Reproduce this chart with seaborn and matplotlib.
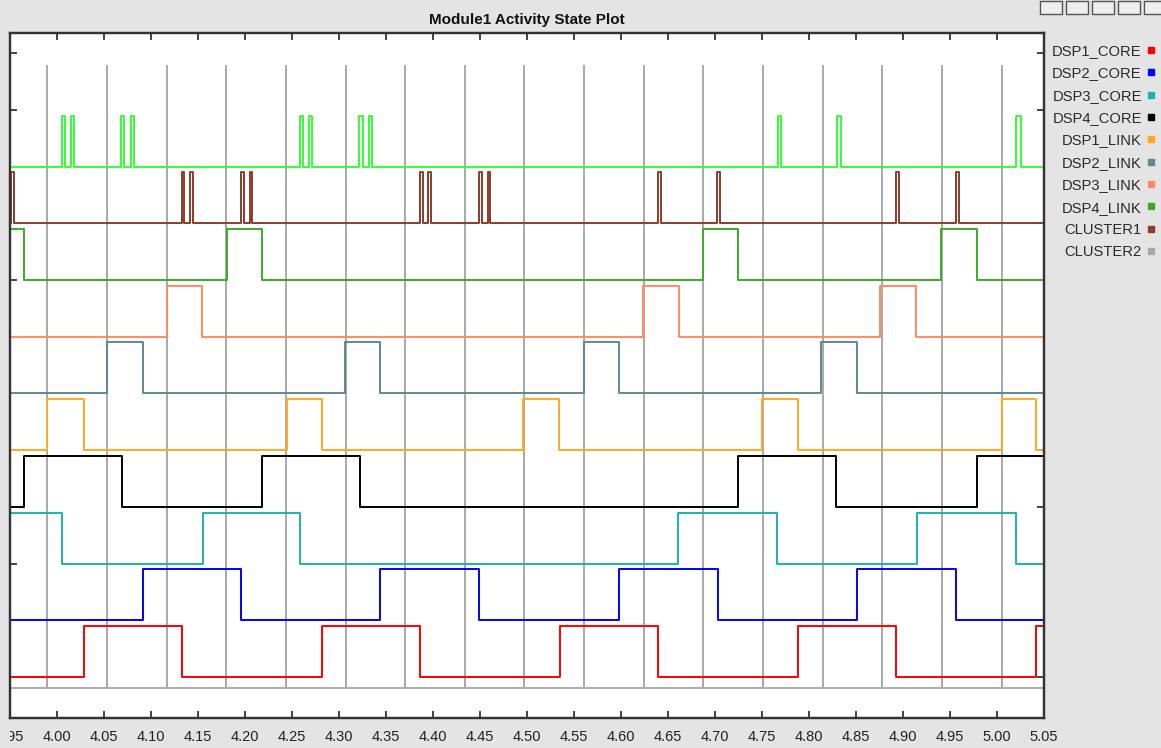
import matplotlib
matplotlib.use("Agg")
import matplotlib.pyplot as plt
import pandas as pd
import seaborn as sns
from matplotlib.lines import Line2D
from matplotlib.patches import Rectangle
from matplotlib.transforms import Bbox, TransformedBbox

# ---------------------------------------------------------------- data
T_START, T_END = 3.95, 5.05

# Track order from bottom to top; each track sits on its own integer level
signal_names = ["DSP1_CORE", "DSP2_CORE", "DSP3_CORE", "DSP4_CORE",
                "DSP1_LINK", "DSP2_LINK", "DSP3_LINK", "DSP4_LINK",
                "CLUSTER1", "BUS"]
signal_colors = ["#FF0000", "#0000FF", "#1AB2B2", "#000000",
                 "#FFAA1E", "#5B8A90", "#FF8A62", "#3CAA28",
                 "#8C3C2A", "#33FF33"]
legend_names = ["DSP1_CORE", "DSP2_CORE", "DSP3_CORE", "DSP4_CORE",
                "DSP1_LINK", "DSP2_LINK", "DSP3_LINK", "DSP4_LINK",
                "CLUSTER1", "CLUSTER2"]
legend_colors = ["#FF0000", "#0000FF", "#1AB2B2", "#000000",
                 "#FFAA1E", "#5B8A90", "#FF8A62", "#3CAA28",
                 "#8C3C2A", "#A8A8A8"]

# state at T_START (0 = idle, 1 = active) and the times where the state toggles
start_state = [0, 0, 1, 0, 0, 0, 0, 1, 0, 0]
dsp1_core_edges = [4.0285, 4.1325, 4.2819, 4.3862, 4.5353, 4.6393, 4.7884, 4.8923, 5.0418]
dsp2_core_edges = [4.0913, 4.1960, 4.3436, 4.4494, 4.5974, 4.7028, 4.8508, 4.9559]
dsp3_core_edges = [4.0050, 4.1552, 4.2585, 4.6609, 4.7663, 4.9154, 5.0197]
dsp4_core_edges = [3.9649, 4.0689, 4.2180, 4.3223, 4.7248, 4.8292, 4.9782]
dsp1_link_edges = [3.9898, 4.0285, 4.2446, 4.2819, 4.4959, 4.5342, 4.7504, 4.7887, 5.0048, 5.0418]
dsp2_link_edges = [4.0530, 4.0913, 4.3064, 4.3436, 4.5608, 4.5974, 4.8132, 4.8508]
dsp3_link_edges = [4.1165, 4.1544, 4.6237, 4.6620, 4.8760, 4.9143]
dsp4_link_edges = [3.9649, 4.1804, 4.2180, 4.6875, 4.7248, 4.9399, 4.9782]
cluster1_edges = [3.9507, 3.9543, 4.1325, 4.1353, 4.1413, 4.1442, 4.1960, 4.1988,
                  4.2052, 4.2077, 4.3862, 4.3891, 4.3951, 4.3979, 4.4494, 4.4523,
                  4.4583, 4.4611, 4.6393, 4.6428, 4.7025, 4.7058, 4.8923, 4.8957,
                  4.9559, 4.9592]
bus_edges = [4.0054, 4.0082, 4.0154, 4.0181, 4.0679, 4.0714, 4.0785, 4.0820,
             4.2585, 4.2613, 4.2684, 4.2712, 4.3216, 4.3252, 4.3319, 4.3351,
             4.7669, 4.7706, 4.8302, 4.8339, 5.0197, 5.0251]
all_edges = [dsp1_core_edges, dsp2_core_edges, dsp3_core_edges, dsp4_core_edges,
             dsp1_link_edges, dsp2_link_edges, dsp3_link_edges, dsp4_link_edges,
             cluster1_edges, bus_edges]

# CLUSTER2 strobes: idle baseline with a full-height spike at each event
cluster2_events = [3.9898, 4.0532, 4.1167, 4.1801, 4.2436, 4.3070, 4.3704, 4.4339,
                   4.4973, 4.5608, 4.6242, 4.6876, 4.7511, 4.8145, 4.8780, 4.9414,
                   5.0048]
cluster2_low, cluster2_high = -0.2, 10.78

xtick_labels = ["3.95", "4.00", "4.05", "4.10", "4.15", "4.20", "4.25", "4.30",
                "4.35", "4.40", "4.45", "4.50", "4.55", "4.60", "4.65", "4.70",
                "4.75", "4.80", "4.85", "4.90", "4.95", "5.00", "5.05"]

PULSE = 0.9  # height of the active state above a track's idle level

# ---------------------------------------------------------------- tidy frames
rows = []
for lvl, (name, edges, s0) in enumerate(zip(signal_names, all_edges, start_state)):
    state = s0
    rows.append((name, T_START, lvl + PULSE * state))
    for t in edges:
        state = 1 - state
        rows.append((name, t, lvl + PULSE * state))
    rows.append((name, T_END, lvl + PULSE * state))
steps = pd.DataFrame(rows, columns=["signal", "time", "level"])

c2 = [(T_START, cluster2_low)]
for t in cluster2_events:
    c2 += [(t, cluster2_low), (t, cluster2_high), (t, cluster2_low)]
c2.append((T_END, cluster2_low))
cluster2 = pd.DataFrame(c2, columns=["time", "level"])

# ---------------------------------------------------------------- figure
sns.set_theme(style="white")
plt.rcParams["font.family"] = ["Liberation Sans", "DejaVu Sans"]

W, H = 1161, 748
fig = plt.figure(figsize=(W / 100, H / 100), dpi=100, facecolor="#E4E4E4")
ax = fig.add_axes([10 / W, 1 - 718 / H, (1044 - 10) / W, (718 - 33.5) / H])
ax.set_facecolor("white")

sns.lineplot(data=cluster2, x="time", y="level", estimator=None, sort=False,
             color="#ABABAB", lw=1.4, ax=ax, zorder=1)
sns.lineplot(data=steps, x="time", y="level", hue="signal",
             hue_order=signal_names, palette=signal_colors,
             estimator=None, sort=False, drawstyle="steps-post",
             lw=1.4, legend=False, ax=ax, zorder=2)

ax.set_xlim(T_START, T_END)
ax.set_ylim(-0.723, 11.347)
ax.set_xlabel("")
ax.set_ylabel("")

ax.set_xticks([float(s) for s in xtick_labels])
ax.set_xticklabels(xtick_labels)
ax.tick_params(axis="x", direction="in", length=5, width=1.2, colors="#222222",
               top=True, bottom=True, labelsize=10.5, pad=8.5)
ax.set_yticks([11, 10, 7, 2])
ax.tick_params(axis="y", direction="in", length=5, width=1.2, colors="#222222",
               left=True, labelleft=False)

ax_r = ax.twinx()
ax_r.set_ylim(ax.get_ylim())
ax_r.set_yticks([11, 10, 3, 0])
ax_r.tick_params(axis="y", direction="in", length=5, width=1.2, colors="#222222",
                 right=True, labelright=False)
ax_r.set_ylabel("")

for a in (ax, ax_r):
    for sp in a.spines.values():
        sp.set_color("#333333")
        sp.set_linewidth(1.6)

# x labels are cut at the left border of the plotting frame
clip = TransformedBbox(Bbox.from_extents(10 / W, 0, 1, 1), fig.transFigure)
for lab in ax.get_xticklabels():
    lab.set_clip_on(True)
    lab.set_clip_box(clip)

fig.text(527 / W, 1 - 20 / H, "Module1 Activity State Plot", ha="center",
         va="center", fontsize=11, fontweight="bold", color="#111111")

handles = [Line2D([], [], linestyle="none", marker="s", markersize=5,
                  markerfacecolor=c, markeredgecolor=c) for c in legend_colors]
fig.legend(handles, legend_names, loc="upper right",
           bbox_to_anchor=(1161 / W, 1 - 38 / H), frameon=False,
           markerfirst=False, fontsize=10.6, handlelength=0.5,
           handletextpad=0.4, labelspacing=0.57, borderaxespad=0,
           labelcolor="#2A2A2A")

# window toolbar buttons in the top-right corner
for x0 in (1040, 1066, 1092, 1118, 1144):
    fig.add_artist(Rectangle((x0 / W, 1 - 14 / H), 22 / W, 13 / H,
                             transform=fig.transFigure, facecolor="#EEEEEE",
                             edgecolor="#555555", lw=1.0))

fig.savefig("out.png", dpi=100, facecolor=fig.get_facecolor())
